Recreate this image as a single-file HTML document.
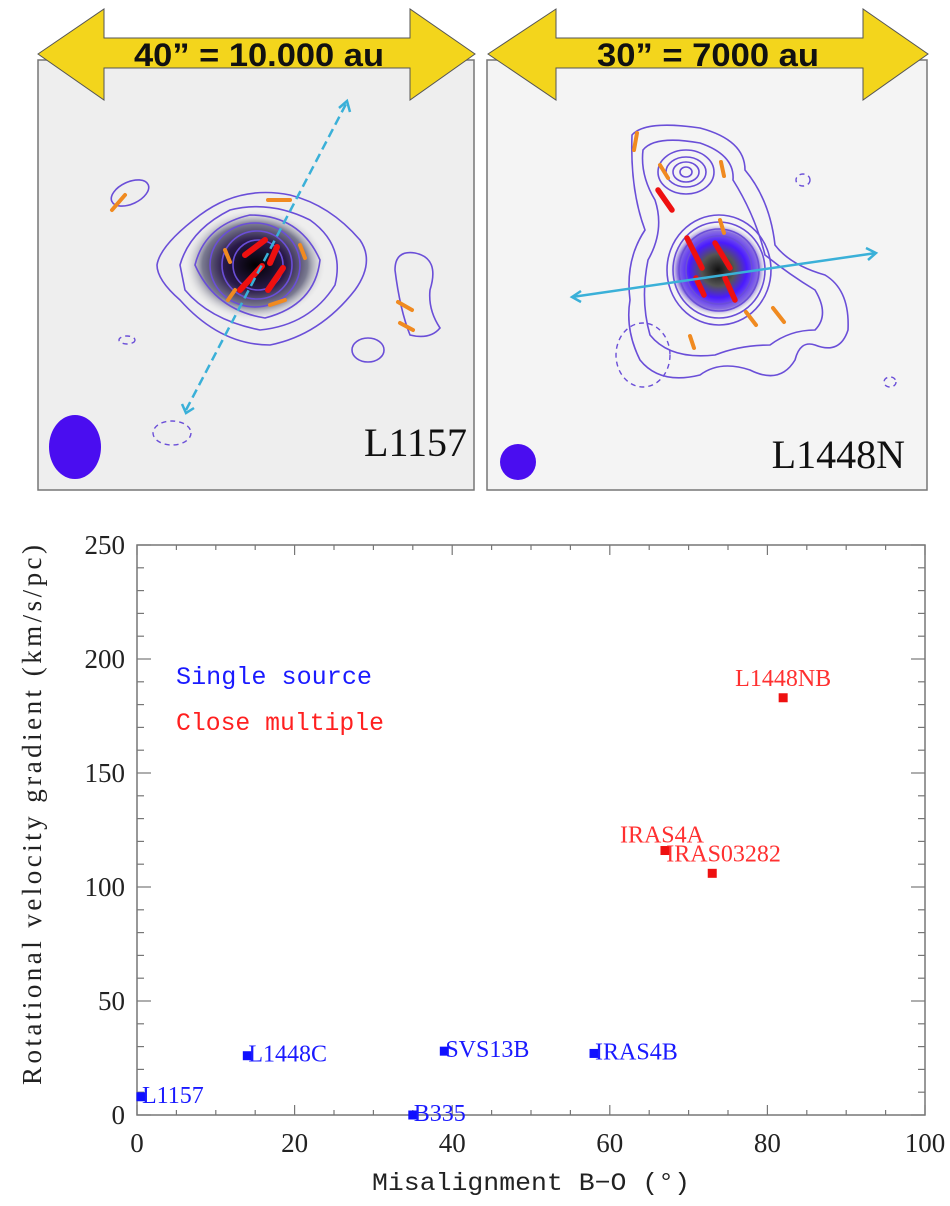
<!DOCTYPE html>
<html><head><meta charset="utf-8"><style>
html,body{margin:0;padding:0;background:#fff;width:950px;height:1206px;overflow:hidden}
svg{display:block}
text{font-family:"Liberation Serif",serif}
</style></head><body>
<svg id="fig" width="950" height="1206" viewBox="0 0 950 1206" xmlns="http://www.w3.org/2000/svg">
<defs>
<radialGradient id="core1"><stop offset="0" stop-color="#000"/><stop offset="0.45" stop-color="#2a1a4a"/><stop offset="0.75" stop-color="#7a7a90"/><stop offset="1" stop-color="#ddd" stop-opacity="0"/></radialGradient>
<radialGradient id="core2"><stop offset="0" stop-color="#111"/><stop offset="0.35" stop-color="#555"/><stop offset="0.6" stop-color="#4a1aff"/><stop offset="0.85" stop-color="#8a70e0"/><stop offset="1" stop-color="#ddd" stop-opacity="0"/></radialGradient>
</defs>

<g>
<rect x="38" y="60" width="436" height="430" fill="#eeeeee" stroke="#777" stroke-width="1.5"/>
<ellipse cx="255" cy="265" rx="70" ry="55" fill="url(#core1)"/>
<g fill="none" stroke="#6a4ed8" stroke-width="1.6">
<path d="M157 265 Q160 245 200 215 Q240 185 290 195 Q330 205 360 240 Q375 262 355 290 Q320 335 270 345 Q220 345 180 300 Q157 280 157 265Z"/>
<path d="M180 265 Q190 230 230 210 Q270 200 310 220 Q345 245 335 285 Q310 325 260 330 Q210 320 185 290Z"/>
<path d="M195 265 Q205 225 250 215 Q300 215 320 260 Q315 305 265 318 Q215 310 195 265Z"/>
<ellipse cx="255" cy="265" rx="45" ry="42"/><ellipse cx="257" cy="265" rx="35" ry="34"/><ellipse cx="258" cy="265" rx="25" ry="25"/>
<ellipse cx="130" cy="193" rx="20" ry="11" transform="rotate(-25 130 193)"/>
<path d="M395 270 Q395 250 415 253 Q440 258 430 290 Q428 310 440 328 Q430 340 410 335 Q400 310 395 270Z"/>
<ellipse cx="368" cy="350" rx="16" ry="12"/>
</g>
<g fill="none" stroke="#6a4ed8" stroke-width="1.4" stroke-dasharray="5,4">
<ellipse cx="172" cy="433" rx="19" ry="12"/><ellipse cx="127" cy="340" rx="8" ry="4"/>
</g>
<g stroke="#f08a20" stroke-width="4" stroke-linecap="round">
<line x1="112" y1="210" x2="125" y2="195"/><line x1="268" y1="200" x2="290" y2="200"/><line x1="225" y1="250" x2="230" y2="262"/><line x1="300" y1="245" x2="305" y2="258"/><line x1="270" y1="305" x2="285" y2="300"/><line x1="228" y1="300" x2="235" y2="290"/><line x1="398" y1="302" x2="412" y2="310"/><line x1="400" y1="323" x2="413" y2="330"/>
</g>
<g stroke="#ee1010" stroke-width="6" stroke-linecap="round">
<line x1="245" y1="255" x2="265" y2="240"/><line x1="240" y1="290" x2="262" y2="266"/><line x1="268" y1="290" x2="283" y2="268"/><line x1="270" y1="263" x2="277" y2="247"/>
</g>
<line x1="186" y1="410" x2="346" y2="104" stroke="#3ab0d8" stroke-width="2.5" stroke-dasharray="9,5"/>
<path d="M339 108 L347 101 L350 112 M182 404 L186 413 L194 408" stroke="#3ab0d8" stroke-width="2.5" fill="none"/>
<ellipse cx="75" cy="447" rx="26" ry="32" fill="#4a0df0"/>
<text x="467" y="456" text-anchor="end" font-size="40" fill="#111">L1157</text>
</g>

<g>
<rect x="487" y="60" width="440" height="430" fill="#f4f4f4" stroke="#777" stroke-width="1.5"/>
<ellipse cx="718" cy="270" rx="48" ry="46" fill="url(#core2)"/>
<g fill="none" stroke="#6a4ed8" stroke-width="1.6">
<path d="M632 135 Q645 120 700 128 Q745 140 745 170 Q770 200 775 245 Q790 265 825 275 Q850 290 848 330 Q840 355 815 345 Q800 340 795 360 Q780 385 750 370 Q720 360 700 375 Q660 385 640 360 Q625 330 630 300 Q625 260 645 230 Q630 190 632 135Z"/>
<path d="M643 150 Q655 135 700 143 Q735 155 733 180 Q755 215 765 255 Q790 275 815 290 Q830 315 815 330 Q790 330 770 345 Q740 345 715 355 Q670 360 650 335 Q640 300 648 260 Q665 230 655 200 Q640 175 643 150Z"/>
<ellipse cx="686" cy="172" rx="28" ry="22"/><ellipse cx="686" cy="172" rx="20" ry="15"/><ellipse cx="686" cy="172" rx="13" ry="10"/><ellipse cx="686" cy="172" rx="6" ry="5"/>
<ellipse cx="719" cy="270" rx="52" ry="55"/><ellipse cx="719" cy="270" rx="46" ry="48"/><ellipse cx="719" cy="270" rx="40" ry="41"/><ellipse cx="719" cy="270" rx="33" ry="34"/>
</g>
<g fill="none" stroke="#6a4ed8" stroke-width="1.4" stroke-dasharray="5,4">
<ellipse cx="643" cy="355" rx="27" ry="32"/><ellipse cx="803" cy="180" rx="7" ry="6"/><ellipse cx="890" cy="382" rx="6" ry="5"/>
</g>
<g stroke="#f08a20" stroke-width="4" stroke-linecap="round">
<line x1="637" y1="133" x2="634" y2="150"/><line x1="660" y1="165" x2="668" y2="178"/><line x1="721" y1="162" x2="724" y2="176"/><line x1="720" y1="220" x2="724" y2="233"/><line x1="746" y1="312" x2="756" y2="325"/><line x1="773" y1="308" x2="784" y2="322"/><line x1="690" y1="336" x2="694" y2="348"/>
</g>
<g stroke="#ee1010" stroke-width="5.5" stroke-linecap="round">
<line x1="658" y1="190" x2="672" y2="210"/><line x1="687" y1="238" x2="702" y2="268"/><line x1="715" y1="243" x2="730" y2="268"/><line x1="696" y1="278" x2="704" y2="295"/><line x1="725" y1="278" x2="735" y2="300"/>
</g>
<line x1="572" y1="297" x2="876" y2="253" stroke="#3ab0d8" stroke-width="2.5"/>
<path d="M581 291 L572 297 L581 302 M866 248 L876 253 L868 260" stroke="#3ab0d8" stroke-width="2.5" fill="none"/>
<circle cx="518" cy="462" r="18" fill="#4a0df0"/>
<text x="905" y="468" text-anchor="end" font-size="40" fill="#111">L1448N</text>
</g>

<g>
<path d="M38 54 L104 9 L104 38 L410 38 L410 9 L475 54 L410 100 L410 68 L104 68 L104 100 Z" fill="#f3d51c" stroke="#555" stroke-width="1"/>
<text x="259" y="66" text-anchor="middle" font-size="32" font-weight="bold" style="font-family:'Liberation Sans',sans-serif" fill="#111" textLength="250" lengthAdjust="spacingAndGlyphs">40” = 10.000 au</text>
</g>
<g>
<path d="M488 54 L556 9 L556 38 L863 38 L863 9 L928 54 L863 100 L863 68 L556 68 L556 100 Z" fill="#f3d51c" stroke="#555" stroke-width="1"/>
<text x="708" y="66" text-anchor="middle" font-size="32" font-weight="bold" style="font-family:'Liberation Sans',sans-serif" fill="#111" textLength="222" lengthAdjust="spacingAndGlyphs">30” = 7000 au</text>
</g>

<g id="chart"></g>
</svg>
<script>
const names=["L1157","L1448C","B335","SVS13B","IRAS4B","IRAS4A","IRAS03282","L1448NB"];
const misalign=[0.5,14,35,39,58,67,73,82];
const gradient=[8,26,0,28,27,116,106,183];
const groups=["single","single","single","single","single","multiple","multiple","multiple"];
const xTicks=[0,20,40,60,80,100];
const yTicks=[0,50,100,150,200,250];
const X0=137,X1=925,Y0=1115,Y1=545;
const sx=v=>X0+(v-0)/(100)*(X1-X0);
const sy=v=>Y0-(v-0)/(250)*(Y0-Y1);
const NS="http://www.w3.org/2000/svg";
const g=document.getElementById('chart');
function mk(t,a,txt){const e=document.createElementNS(NS,t);for(const k in a)e.setAttribute(k,a[k]);if(txt!==undefined)e.textContent=txt;g.appendChild(e);return e;}
let fr=mk('rect',{x:X0,y:Y1,width:X1-X0,height:Y0-Y1,fill:'none',stroke:'#777','stroke-width':1.5});


for(let v=0;v<=100;v+=5){const big=v%20===0;const l=big?10:5;
mk('line',{x1:sx(v),x2:sx(v),y1:Y0,y2:Y0-l,stroke:'#777','stroke-width':1.2});
mk('line',{x1:sx(v),x2:sx(v),y1:Y1,y2:Y1+l,stroke:'#777','stroke-width':1.2});}
for(let v=0;v<=250;v+=10){const big=v%50===0;const l=big?14:7;
mk('line',{x1:X0,x2:X0+l,y1:sy(v),y2:sy(v),stroke:'#777','stroke-width':1.2});
mk('line',{x1:X1,x2:X1-l,y1:sy(v),y2:sy(v),stroke:'#777','stroke-width':1.2});}
xTicks.forEach(v=>{const t=mk('text',{x:sx(v),y:1152,'text-anchor':'middle','font-size':27,fill:'#222'},v);

});
yTicks.forEach(v=>{const t=mk('text',{x:125,y:sy(v)+9,'text-anchor':'end','font-size':27,fill:'#222'},v);

});
let xt=mk('text',{x:531,y:1190,'text-anchor':'middle','font-size':25,fill:'#222',textLength:318,lengthAdjust:'spacingAndGlyphs',style:"font-family:'Liberation Mono',monospace"},'Misalignment B−O (°)');


let yt=mk('text',{x:0,y:0,'text-anchor':'middle','font-size':27,fill:'#222',textLength:540,lengthAdjust:'spacing',transform:'translate(41,815) rotate(-90)'},'Rotational velocity gradient  (km/s/pc)');


let l1=mk('text',{x:176,y:684,'font-size':25,fill:'#1a1aff',textLength:196,lengthAdjust:'spacingAndGlyphs',style:"font-family:'Liberation Mono',monospace"},'Single source');


let l2=mk('text',{x:176,y:730,'font-size':25,fill:'#ff2020',textLength:208,lengthAdjust:'spacingAndGlyphs',style:"font-family:'Liberation Mono',monospace"},'Close multiple');


names.forEach((n,i)=>{const c=groups[i]==='single'?'#1010ff':'#ee1010';
const x=sx(misalign[i]),y=sy(gradient[i]);
const p=mk('rect',{x:x-4.5,y:y-4.5,width:9,height:9,fill:c});


let tx,ty,anc='start';
if(groups[i]==='single'){tx=x+1;ty=y+6;}
else if(n==='L1448NB'){tx=x;ty=y-12;anc='middle';}
else if(n==='IRAS4A'){tx=x-45;ty=y-8;}
else {tx=x-46;ty=y-12;}
const t=mk('text',{x:tx,y:ty,'text-anchor':anc,'font-size':24,fill:groups[i]==='single'?'#1a1aff':'#ff3030'},n);

});
</script>
</body></html>
